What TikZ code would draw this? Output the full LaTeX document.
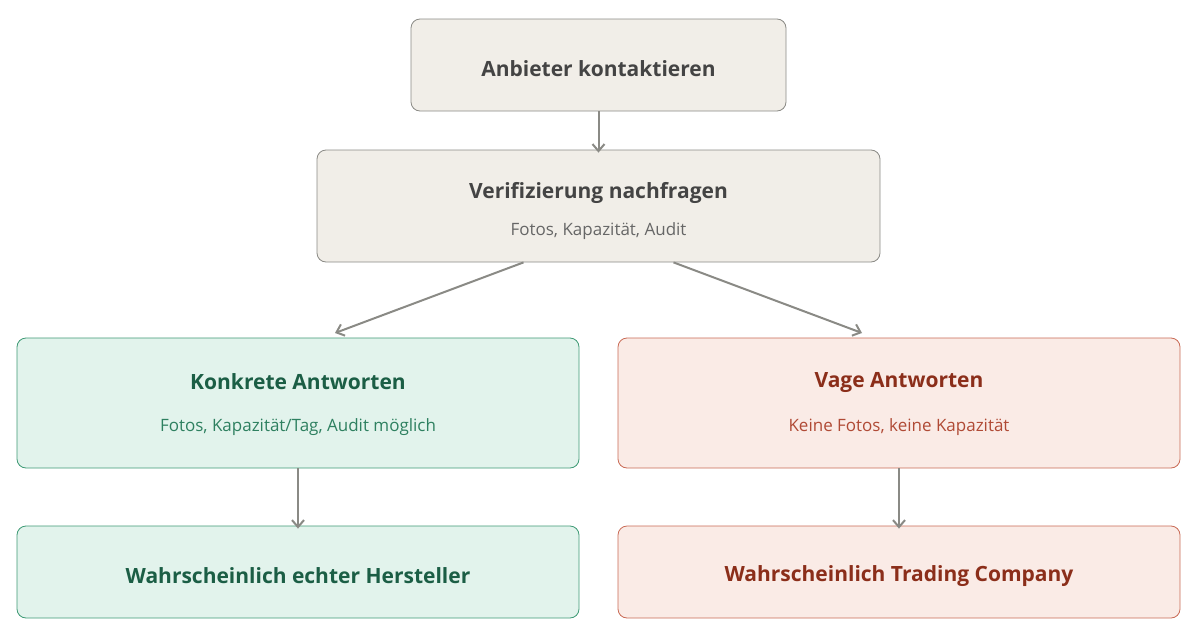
\documentclass[tikz,border=0pt]{standalone}
\usepackage{fontspec}
\setmainfont{Open Sans}
\usetikzlibrary{arrows.meta}
\definecolor{nfill}{HTML}{F1EEE8}\definecolor{nline}{HTML}{8A8A85}
\definecolor{gfill}{HTML}{E2F3EC}\definecolor{gline}{HTML}{3E9A75}\definecolor{gtext}{HTML}{1B5E45}\definecolor{gsub}{HTML}{2E8060}
\definecolor{rfill}{HTML}{FAEBE6}\definecolor{rline}{HTML}{C96A55}\definecolor{rtext}{HTML}{8B2E1A}\definecolor{rsub}{HTML}{B04A35}
\definecolor{ntext}{HTML}{444444}\definecolor{nsub}{HTML}{666666}
\begin{document}
\begin{tikzpicture}[x=1pt,y=-1pt,
 box/.style={draw,rounded corners=9pt,line width=0.8pt,align=center,inner sep=0pt},
 neutral/.style={box,fill=nfill,draw=nline,text=ntext},
 green/.style={box,fill=gfill,draw=gline,text=gtext},
 red/.style={box,fill=rfill,draw=rline,text=rtext},
 t/.style={font=\fontsize{21}{24}\selectfont\bfseries},
 s/.style={font=\fontsize{17}{20}\selectfont},
 arr/.style={-{Straight Barb[length=7pt,width=12pt]},line width=2pt,draw=nline}]
\useasboundingbox (0,0) rectangle (1200,640);
\node[neutral,minimum width=375pt,minimum height=92pt] (a) at (598.5,65) {};
\node[t,text=ntext] (at) at (598.5,69) {Anbieter kontaktieren};
\node[neutral,minimum width=563pt,minimum height=112pt] (v) at (598.5,206) {};
\node[t,text=ntext] (vt) at (598.5,193) {Verifizierung nachfragen};
\node[s,text=nsub] (vs) at (598.5,231) {Fotos, Kapazität, Audit};
\node[green,minimum width=562pt,minimum height=130pt] (g) at (298,403) {};
\node[t,text=gtext] (gt) at (298,382) {Konkrete Antworten};
\node[s,text=gsub] (gs) at (298,427) {Fotos, Kapazität/Tag, Audit möglich};
\node[red,minimum width=562pt,minimum height=130pt] (r) at (899,403) {};
\node[t,text=rtext] (rt) at (899,382) {Vage Antworten};
\node[s,text=rsub] (rs) at (899,427) {Keine Fotos, keine Kapazität};
\node[green,minimum width=562pt,minimum height=92pt] (gb) at (298,572) {};
\node[t,text=gtext] (gbt) at (298,576) {Wahrscheinlich echter Hersteller};
\node[red,minimum width=562pt,minimum height=92pt] (rb) at (899,572) {};
\node[t,text=rtext] (rbt) at (899,576) {Wahrscheinlich Trading Company};
\draw[arr] (a.south) -- ([yshift=-3pt]v.north);
\draw[arr] ([xshift=-75pt]v.south) -- (335,333);
\draw[arr] ([xshift=75pt]v.south) -- (862,333);
\draw[arr] (g.south) -- ([yshift=-3pt]gb.north);
\draw[arr] (r.south) -- ([yshift=-3pt]rb.north);
\end{tikzpicture}
\end{document}
